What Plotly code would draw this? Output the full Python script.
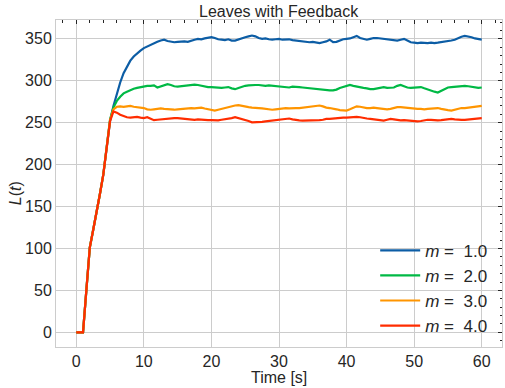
import plotly.graph_objects as go

# ---------------- data ----------------
time = [0.5 * i for i in range(121)]  # sampling grid, 0 .. 60 s

ramp = [0, 0, 0, 51, 101, 122, 142, 165, 188, 220]  # t = 0 .. 4.5 (shared start)

m1 = ramp + [
    252, 270, 285, 298, 309, 317, 324, 329, 333, 336,
    339, 341, 343.5, 345, 346.5, 348, 349, 347.5, 346.5, 346,
    346.5, 347, 347, 346.5, 348, 349, 350, 349.5, 350.5, 351.5,
    352, 351, 349.5, 349, 348.5, 349.5, 348, 348, 349.5, 351,
    352, 353, 354, 353, 351, 350, 350.5, 349.5, 349, 349.5,
    350, 349, 349, 349.5, 348.5, 348, 348, 347.5, 346.5, 346,
    346.5, 345.5, 345, 346, 347, 349, 346, 346.5, 348, 349.5,
    350, 350.5, 352, 353.5, 351, 350, 349, 350, 351, 351,
    350.5, 350, 349.5, 348.5, 348, 348, 349, 350, 348, 346,
    345.5, 345, 345.5, 345, 345, 345.5, 345, 345.5, 346, 346.5,
    347, 348, 349, 351, 352.5, 353.5, 353, 352, 350.5, 349.5,
    349,
]

m2 = ramp + [
    254, 268, 276, 281, 285, 287, 289, 290.5, 291.5, 292.5,
    293, 294, 294, 294.5, 292, 293.5, 295, 296, 295, 293.5,
    293, 293.5, 294, 294.5, 295, 295.5, 295, 294, 293, 292.5,
    292.5, 292, 291.5, 291.5, 292, 292.5, 291, 290, 291.5, 293,
    294, 294.5, 295, 295, 295, 294.5, 294, 294.5, 294, 293.5,
    293, 292.5, 292.5, 292, 293, 293, 292.5, 292, 291.5, 291,
    291, 290.5, 290, 289.5, 289.3, 288.5, 288.5, 289.5, 291.5, 292.5,
    294, 295, 294, 293, 292.5, 291.5, 291, 290, 290, 291,
    292, 292.5, 291.5, 291.5, 292, 294, 295, 293.5, 292, 291.5,
    292, 292.5, 292.5, 291, 289.5, 288, 287, 286, 288, 290,
    292, 292.5, 293, 293.5, 294, 294, 293.5, 293, 292, 291.5,
    292,
]

m3 = ramp + [
    253, 266, 269, 269.5, 269, 269.5, 270, 269, 268.5, 268.5,
    267.5, 266, 265.5, 266, 266.5, 267, 266.5, 266, 265.5, 265.5,
    266, 266.5, 267, 267.5, 267.5, 267, 267.5, 268, 267, 266,
    265, 264.5, 265.5, 266.5, 268, 268.5, 269.5, 270.5, 271, 270,
    269, 268.5, 268, 268, 267.5, 267, 266.5, 266, 265.5, 266,
    266.5, 267, 267.5, 267, 267.5, 267.5, 267.5, 268, 268.5, 269,
    269.5, 270, 270.5, 269.5, 268, 267.5, 267, 266, 265, 264.5,
    264.5, 266, 268, 269.5, 269, 268, 267.5, 267.5, 268, 267.5,
    267, 266.5, 266, 266.5, 267.5, 268.5, 268.5, 268, 267.5, 267.5,
    267, 266.5, 266.5, 266, 266.5, 267, 267.5, 267.5, 266.5, 265.5,
    265, 264.5, 265.5, 266.5, 267.5, 267.5, 268, 268.5, 269.5, 270,
    270,
]

m4 = ramp + [
    252, 263.5, 262, 259.5, 257.5, 256.5, 256, 256.5, 257, 256,
    255.5, 256.5, 255, 253, 253.5, 254, 254.5, 255, 255, 255.5,
    255.5, 255, 254.5, 254, 253.5, 253.5, 254, 253.5, 253.5, 253,
    253, 252.5, 252.8, 253.5, 254, 254.5, 255.5, 256.5, 255.5, 254,
    253, 252, 250.5, 250.5, 251, 251, 251.5, 252, 253, 253.5,
    254, 254.5, 254.5, 255, 254, 253, 252.8, 252.5, 252.5, 253,
    253, 252.5, 253, 253.5, 254.5, 254.5, 255, 255.5, 255.5, 256,
    256, 256.5, 256.7, 257, 256.5, 255.5, 255, 254.5, 254, 253.5,
    253, 252.5, 253.5, 254.5, 254, 253, 252.8, 253, 252.5, 252,
    251.5, 251.5, 252, 253, 253.5, 253.5, 253, 252.8, 253, 253.5,
    254, 254.5, 254, 253.5, 253.5, 253.5, 254, 254.5, 255, 255.5,
    255.5,
]

series_names = ["1.0", "2.0", "3.0", "4.0"]
series_values = [m1, m2, m3, m4]
colors = ["#0C5DA5", "#00B945", "#FF9500", "#FF2C00"]

x_ticks = [0, 10, 20, 30, 40, 50, 60]
y_ticks = [0, 50, 100, 150, 200, 250, 300, 350]

title_text = "Leaves with Feedback"
x_label = "Time [s]"
y_label = "<i>L</i>(<i>t</i>)"

# ---------------- figure ----------------
TXT = "#262626"
GRID = "#cccccc"
FONT = "Liberation Sans, Arial, sans-serif"

fig = go.Figure()
for name, vals, col in zip(series_names, series_values, colors):
    fig.add_trace(go.Scatter(
        x=time, y=vals, mode="lines",
        line=dict(color=col, width=2.2),
        name=f"<i>m</i> =  {name}",
    ))

# empty trace so the mirrored (top/right) tick axes get drawn
fig.add_trace(go.Scatter(x=[], y=[], xaxis="x2", yaxis="y2",
                         showlegend=False, hoverinfo="skip"))

xr = [-3, 63]
yr = [-17.5, 372.5]

fig.update_layout(
    width=505, height=388,
    margin=dict(l=56, r=3, t=20, b=41),
    paper_bgcolor="white", plot_bgcolor="white",
    font=dict(family=FONT, size=16, color=TXT),
    showlegend=True,
    legend=dict(x=0.978, xanchor="right", y=0.01, yanchor="bottom",
                bgcolor="rgba(0,0,0,0)", font=dict(size=17, color=TXT),
                itemwidth=40, tracegroupgap=0),
    xaxis=dict(range=xr, tickvals=x_ticks, showgrid=True, gridcolor=GRID,
               gridwidth=1, zeroline=False, showline=True, mirror=True,
               linecolor=GRID, linewidth=1, ticks="",
               tickfont=dict(size=16)),
    yaxis=dict(range=yr, tickvals=y_ticks, showgrid=True, gridcolor=GRID,
               gridwidth=1, zeroline=False, showline=True, mirror=True,
               linecolor=GRID, linewidth=1, ticks="",
               tickfont=dict(size=16)),
    xaxis2=dict(range=xr, overlaying="x", side="top", matches="x",
                showgrid=False, zeroline=False, showticklabels=False,
                ticks="inside", ticklen=4, tickwidth=1, tickcolor=TXT,
                tick0=0, dtick=10, showline=False,
                minor=dict(ticks="inside", ticklen=2.5, tickwidth=1,
                           tickcolor=TXT, tick0=0, dtick=2, showgrid=False)),
    yaxis2=dict(range=yr, overlaying="y", side="right", matches="y",
                anchor="x2",
                showgrid=False, zeroline=False, showticklabels=False,
                ticks="inside", ticklen=4, tickwidth=1, tickcolor=TXT,
                tick0=0, dtick=50, showline=False,
                minor=dict(ticks="inside", ticklen=2.5, tickwidth=1,
                           tickcolor=TXT, tick0=0, dtick=10, showgrid=False)),
    annotations=[
        dict(text=title_text, xref="paper", yref="paper", x=0.5, y=1.0275,
             xanchor="center", yanchor="middle", showarrow=False,
             font=dict(size=16, color=TXT)),
        dict(text=x_label, xref="paper", yref="paper", x=0.5, y=-0.093,
             xanchor="center", yanchor="middle", showarrow=False,
             font=dict(size=16, color=TXT)),
        dict(text=y_label, xref="paper", yref="paper", x=-0.092, y=0.47,
             xanchor="center", yanchor="middle", textangle=-90,
             showarrow=False, font=dict(size=16, color=TXT)),
    ],
)

# remove the browser's default 8px body margin so the figure fills the window
fig.write_html(
    "out.html",
    config={"displayModeBar": False},
    post_script="document.body.style.margin='0px';document.body.style.padding='0px';",
)
